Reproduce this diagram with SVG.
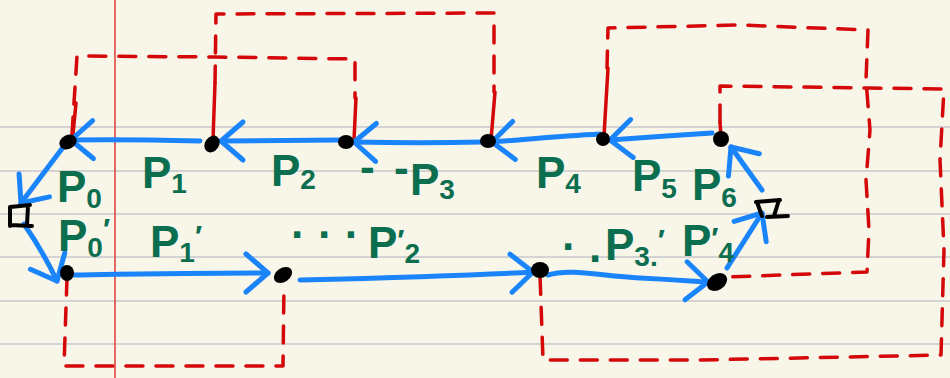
<svg xmlns="http://www.w3.org/2000/svg" width="950" height="378" viewBox="0 0 950 378">
<style>
.rule{stroke:#d3d3d3;stroke-width:2}
.margin{stroke:#e23a3a;stroke-width:1.5}
.arrow{fill:none;stroke:#1a84fb;stroke-width:5;stroke-linecap:round;stroke-linejoin:round;marker-end:url(#head)}
.red{fill:none;stroke:#d40808;stroke-width:3.5;stroke-linecap:round;stroke-linejoin:round;stroke-dasharray:17 13}
.redsolid{fill:none;stroke:#d40808;stroke-width:3.5;stroke-linecap:round}
.dot{fill:#000}
.sq{fill:none;stroke:#000;stroke-width:4;stroke-linecap:round}
.lbl{font-family:"Liberation Sans",Arial,sans-serif;font-weight:bold;font-size:44px;fill:#0b6e4f}
.sub{font-size:28px}
.pr{font-size:30px}
</style>
<defs>
<marker id="head" markerUnits="userSpaceOnUse" markerWidth="60" markerHeight="60" viewBox="-30 -30 60 60" refX="0" refY="0" orient="auto" overflow="visible">
<path d="M-22,-19 L0,0 L-22,19" fill="none" stroke="#1a84fb" stroke-width="5" stroke-linecap="round" stroke-linejoin="round"/>
</marker>
</defs>
<rect width="950" height="378" fill="#f8f5e9"/>
<g id="paper">
<line class="rule" x1="0" y1="127" x2="950" y2="127"/>
<line class="rule" x1="0" y1="171" x2="950" y2="171"/>
<line class="rule" x1="0" y1="214" x2="950" y2="214"/>
<line class="rule" x1="0" y1="257" x2="950" y2="257"/>
<line class="rule" x1="0" y1="301" x2="950" y2="301"/>
<line class="rule" x1="0" y1="344" x2="950" y2="344"/>
<line class="margin" x1="115" y1="0" x2="115" y2="378"/>
</g>
<g id="connectors">
<g id="red-paths">
<path class="red" d="M72 134 L77 56 L215 57 L355 59 L355 98"/>
<path class="redsolid" d="M76 103 L73 134 M356 98 L354 140"/>
<path class="red" d="M215 83 L216 14 L494 13 L494 92"/>
<path class="redsolid" d="M215 83 L213 140 M495 92 L491 140"/>
<path class="red" d="M607 68 L608 28 L740 25 L868 30 L866 80 L870 130 L866 180 L869 230 L867 272 L725 277"/>
<path class="redsolid" d="M608 68 L604 136"/>
<path class="red" d="M720 122 L720 86 L870 88 L944 89 L940 160 L944 250 L941 355 L700 360 L543 360 L540 275"/>
<path class="redsolid" d="M720 122 L721 137"/>
<path class="red" d="M67 278 L64 366 L283 366 L284 284"/>
</g>
<g id="blue-arrows">
<path class="arrow" d="M762 190 L731 147"/>
<path class="arrow" d="M712 133 C680 135 640 138 610 140"/>
<path class="arrow" d="M600 134 C560 136 520 140 492 142"/>
<path class="arrow" d="M482 142 C440 143 400 143 354 142"/>
<path class="arrow" d="M340 140 C300 140 260 141 221 141"/>
<path class="arrow" d="M200 141 C160 140 120 139 71 140"/>
<path class="arrow" d="M64 146 L21 203"/>
<path class="arrow" d="M24 224 C35 240 48 262 57 281"/>
<path class="arrow" d="M72 275 C140 274 200 273 268 273"/>
<path class="arrow" d="M300 280 C380 278 460 276 533 272"/>
<path class="arrow" d="M548 275 C570 268 600 276 640 278 S690 281 708 282"/>
<path class="arrow" d="M727 268 L762 213"/>
</g>
</g>
<g id="n-top0"><ellipse class="dot" cx="68" cy="142" rx="9" ry="7" transform="rotate(-25 68 142)"/></g>
<g id="n-top1"><ellipse class="dot" cx="212" cy="144" rx="9" ry="7" transform="rotate(-55 212 144)"/></g>
<g id="n-top2"><ellipse class="dot" cx="346" cy="142" rx="8" ry="7"/></g>
<g id="n-top3"><ellipse class="dot" cx="488" cy="141" rx="8" ry="7"/></g>
<g id="n-top4"><ellipse class="dot" cx="603" cy="139" rx="7" ry="7"/></g>
<g id="n-top5"><ellipse class="dot" cx="721" cy="139" rx="8" ry="8"/></g>
<g id="n-bot0"><ellipse class="dot" cx="67" cy="273" rx="7" ry="8"/></g>
<g id="n-bot1"><ellipse class="dot" cx="283" cy="275" rx="10" ry="7" transform="rotate(-35 283 275)"/></g>
<g id="n-bot2"><ellipse class="dot" cx="540" cy="270" rx="9" ry="8"/></g>
<g id="n-bot3"><ellipse class="dot" cx="717" cy="282" rx="11" ry="8" transform="rotate(-35 717 282)"/></g>
<g id="sq-left"><path class="sq" d="M10 207 L30 205 M10 207 L10 226 M28 206 L27 225 M10 225 L32 226"/></g>
<g id="sq-right"><path class="sq" d="M756 202 L780 200 M757 202 L762 216 M779 200 L774 216 M767 217 L788 216"/></g>
<g id="labels">
<text class="lbl" x="57" y="202">P<tspan class="sub" dy="6">0</tspan></text>
<text class="lbl" x="142" y="188">P<tspan class="sub" dy="5">1</tspan></text>
<text class="lbl" x="271" y="186">P<tspan class="sub" dy="3">2</tspan></text>
<text class="lbl" x="360" y="182">-</text>
<text class="lbl" x="394" y="183">-</text>
<text class="lbl" x="410" y="195">P<tspan class="sub" dy="4">3</tspan></text>
<text class="lbl" x="536" y="188">P<tspan class="sub" dy="5">4</tspan></text>
<text class="lbl" x="632" y="191">P<tspan class="sub" dy="7">5</tspan></text>
<text class="lbl" x="692" y="200">P<tspan class="sub" dy="7">6</tspan></text>
<text class="lbl" x="58" y="251">P<tspan class="sub" dy="6">0</tspan><tspan class="pr" dy="-18">′</tspan></text>
<text class="lbl" x="150" y="257">P<tspan class="sub" dy="5">1</tspan><tspan class="pr" dy="-16">′</tspan></text>
<text class="lbl" x="291" y="250" font-size="22">· · ·</text>
<text class="lbl" x="368" y="258">P<tspan class="pr" dy="-8">′</tspan><tspan class="sub" dy="13">2</tspan></text>
<text class="lbl" x="562" y="262" font-size="26">· .</text>
<text class="lbl" x="605" y="260">P<tspan class="sub" dy="6">3.</tspan><tspan class="pr" dy="-16">′</tspan></text>
<text class="lbl" x="682" y="256">P<tspan class="pr" dy="-8">′</tspan><tspan class="sub" dy="14">4</tspan></text>
</g>
</svg>
